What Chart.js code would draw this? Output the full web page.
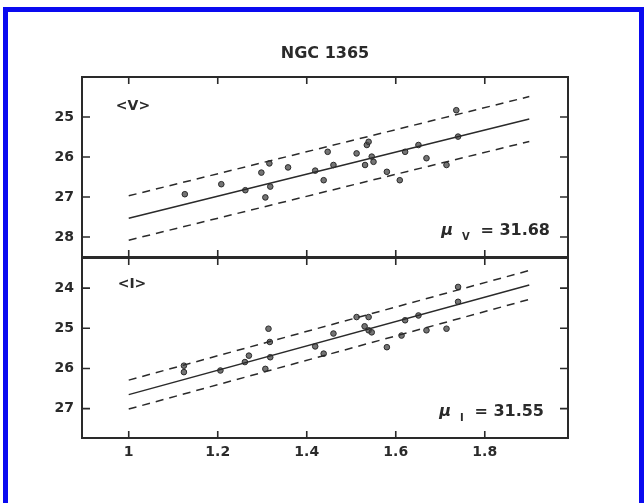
<!DOCTYPE html>
<html><head><meta charset="utf-8">
<script src="https://cdn.jsdelivr.net/npm/chart.js@4.4.1/dist/chart.umd.min.js"></script>
<style>
html,body{margin:0;padding:0;background:#fff;width:644px;height:503px;overflow:hidden;}
#frame{position:absolute;left:3px;top:7px;width:631px;height:520px;border:5px solid #0a0af0;}
.c{position:absolute;left:0;top:0;width:644px;height:503px;}
.lbl{position:absolute;font-family:"DejaVu Sans",Arial,sans-serif;font-weight:bold;color:#2a2a2a;white-space:nowrap;line-height:1;}
.lbl sub{font-size:10px;vertical-align:-5px;margin-left:9px;margin-right:5px;}
</style></head><body>
<div id="frame"></div>
<div class="c"><canvas id="cv"></canvas></div>
<div class="c"><canvas id="ci"></canvas></div>
<div class="lbl" style="left:325px;top:53px;font-size:16px;transform:translate(-50%,-50%);">NGC 1365</div>
<div class="lbl" style="left:133px;top:105px;font-size:14px;transform:translate(-50%,-50%);">&lt;V&gt;</div>
<div class="lbl" style="left:132px;top:283px;font-size:14px;transform:translate(-50%,-50%);">&lt;I&gt;</div>
<div class="lbl" style="right:94px;top:222px;font-size:16px;"><i>μ</i><sub>V</sub> = 31.68</div>
<div class="lbl" style="right:100px;top:403px;font-size:16px;"><i>μ</i><sub>I</sub> = 31.55</div>
<script>
const xTicks = [1, 1.2, 1.4, 1.6, 1.8];
const vTicks = [25, 26, 27, 28];
const iTicks = [24, 25, 26, 27];

const vLogP = [1.126, 1.208, 1.262, 1.298, 1.307, 1.316, 1.318, 1.358, 1.419, 1.438, 1.447, 1.460, 1.512, 1.531, 1.535, 1.539, 1.546, 1.550, 1.580, 1.609, 1.621, 1.651, 1.669, 1.714, 1.736, 1.740];
const vMag  = [26.93, 26.68, 26.83, 26.39, 27.01, 26.16, 26.74, 26.26, 26.34, 26.58, 25.87, 26.20, 25.91, 26.20, 25.70, 25.62, 25.99, 26.12, 26.37, 26.58, 25.87, 25.70, 26.03, 26.20, 24.83, 25.49];

const iLogP = [1.124, 1.124, 1.206, 1.261, 1.270, 1.307, 1.314, 1.317, 1.318, 1.419, 1.438, 1.460, 1.512, 1.530, 1.539, 1.539, 1.546, 1.580, 1.613, 1.621, 1.651, 1.669, 1.714, 1.740, 1.740];
const iMag  = [25.93, 26.09, 26.05, 25.84, 25.68, 26.01, 25.01, 25.34, 25.72, 25.45, 25.63, 25.13, 24.72, 24.95, 24.72, 25.05, 25.10, 25.47, 25.18, 24.80, 24.68, 25.05, 25.01, 23.97, 24.34];

const fitLogP = [1.0, 1.9];
const vFit   = [27.53, 25.05];
const vUpper = [26.97, 24.49];
const vLower = [28.08, 25.61];
const iFit   = [26.65, 23.92];
const iUpper = [26.29, 23.56];
const iLower = [27.01, 24.28];

Chart.defaults.font.family = '"DejaVu Sans", Arial, sans-serif';

const framePlugin = {
  id: 'frameTicks',
  afterDraw(chart) {
    const {ctx, chartArea: a, scales: {x, y}} = chart;
    ctx.save();
    ctx.strokeStyle = '#2a2a2a';
    ctx.lineWidth = 2;
    ctx.strokeRect(a.left, a.top, a.right - a.left, a.bottom - a.top);
    ctx.lineWidth = 1.6;
    ctx.beginPath();
    x.ticks.forEach(t => {
      const px = x.getPixelForValue(t.value);
      ctx.moveTo(px, a.top); ctx.lineTo(px, a.top + 7);
      ctx.moveTo(px, a.bottom); ctx.lineTo(px, a.bottom - 7);
    });
    y.ticks.forEach(t => {
      const py = y.getPixelForValue(t.value);
      ctx.moveTo(a.left, py); ctx.lineTo(a.left + 8, py);
      ctx.moveTo(a.right, py); ctx.lineTo(a.right - 8, py);
    });
    ctx.stroke();
    ctx.restore();
  }
};

function pts(xs, ys) { return xs.map((v, i) => ({x: v, y: ys[i]})); }

function makeChart(id, logP, mag, fit, up, lo, yMin, yMax, yT, showX, pad) {
  const lineDs = (data, dash) => ({
    data: pts(fitLogP, data), showLine: true, pointRadius: 0,
    borderColor: '#2a2a2a', borderWidth: 1.5, borderDash: dash, fill: false
  });
  return new Chart(document.getElementById(id), {
    type: 'scatter',
    data: {
      datasets: [
        lineDs(fit, []),
        lineDs(up, [8, 6]),
        lineDs(lo, [8, 6]),
        {
          data: pts(logP, mag), pointRadius: 2.8, pointStyle: 'circle',
          backgroundColor: 'rgba(70,70,70,0.75)', borderColor: '#2a2a2a', borderWidth: 1
        }
      ]
    },
    options: {
      responsive: true, maintainAspectRatio: false, animation: false,
      layout: {padding: pad},
      plugins: {legend: {display: false}, tooltip: {enabled: false}, title: {display: false}},
      scales: {
        x: {
          type: 'linear', min: 0.895, max: 1.987,
          afterBuildTicks: s => { s.ticks = xTicks.map(v => ({value: v})); },
          afterFit: s => { s.height = showX ? 30 : 0; },
          grid: {display: false, drawTicks: false},
          border: {display: false},
          ticks: {display: showX, padding: 6, color: '#2a2a2a', font: {size: 14, weight: 'bold'},
                  callback: v => String(v), maxRotation: 0, autoSkip: false}
        },
        y: {
          type: 'linear', reverse: true, min: yMin, max: yMax,
          afterBuildTicks: s => { s.ticks = yT.map(v => ({value: v})); },
          afterFit: s => { s.width = 82; },
          grid: {display: false, drawTicks: false},
          border: {display: false},
          ticks: {padding: 8, color: '#2a2a2a', font: {size: 14, weight: 'bold'}, callback: v => String(v), autoSkip: false}
        }
      }
    },
    plugins: [framePlugin]
  });
}

makeChart('cv', vLogP, vMag, vFit, vUpper, vLower, 24.0, 28.5, vTicks, false,
  {left: 0, top: 77, right: 76, bottom: 246});
makeChart('ci', iLogP, iMag, iFit, iUpper, iLower, 23.25, 27.73, iTicks, true,
  {left: 0, top: 258, right: 76, bottom: 35});
</script>
</body></html>
